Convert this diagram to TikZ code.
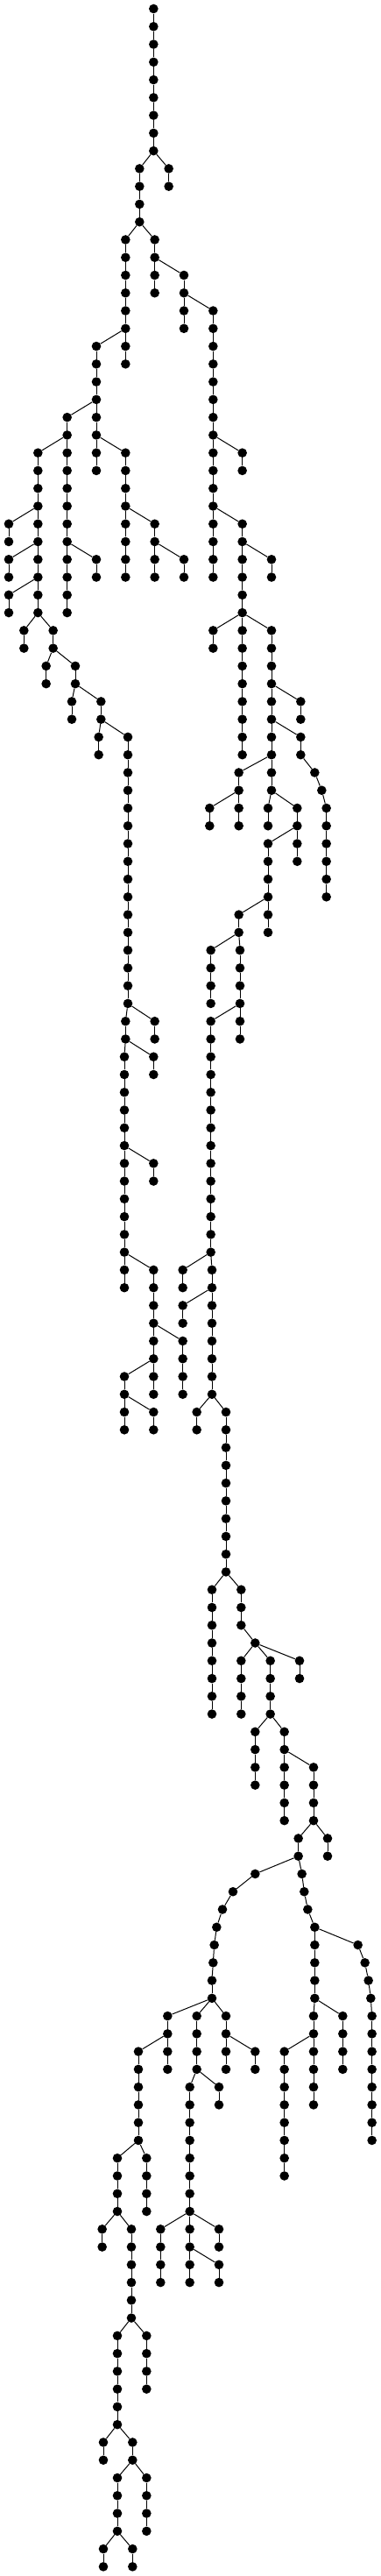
\documentclass[tikz,border=0pt]{standalone}
\tikzset{
  dot/.style={circle,fill=black,draw=none,inner sep=0pt,minimum size=10.6pt},
  edge/.style={line width=1pt,black}
}
\newcommand\tchain[4]{%
  \foreach \l in {#2,...,#3}{\node[dot] (n#1-\l) at (#1,\l) {};}%
  \draw[edge] (#4) -- (n#1-#2);%
  \ifnum#3>#2\relax
    \pgfmathtruncatemacro\chainstartval{#2+1}%
    \foreach \l in {\chainstartval,...,#3}{\pgfmathtruncatemacro\ppv{\l-1}\draw[edge] (n#1-\ppv) -- (n#1-\l);}%
  \fi}
\begin{document}
\begin{tikzpicture}[x=0.333333pt,y=-20.266pt]
\useasboundingbox (0,-0.49344) rectangle (1305,144.5265);
\node[dot] (n526-0) at (526,0) {};
\tchain{526}{1}{8}{n526-0}
\tchain{478}{9}{12}{n526-8}
\tchain{578}{9}{10}{n526-8}
\tchain{430}{13}{20}{n478-12}
\tchain{530}{13}{16}{n478-12}
\tchain{630}{15}{18}{n530-14}
\tchain{730}{17}{32}{n630-16}
\tchain{330}{19}{26}{n430-18}
\tchain{230}{23}{34}{n330-22}
\tchain{130}{25}{34}{n230-24}
\tchain{430}{25}{32}{n330-24}
\tchain{830}{25}{26}{n730-24}
\tchain{30}{29}{30}{n130-28}
\tchain{530}{29}{32}{n430-28}
\tchain{830}{29}{42}{n730-28}
\tchain{30}{31}{32}{n130-30}
\tchain{330}{31}{32}{n230-30}
\tchain{630}{31}{32}{n530-30}
\tchain{930}{31}{32}{n830-30}
\tchain{30}{33}{34}{n130-32}
\tchain{82}{35}{36}{n130-34}
\tchain{182}{35}{36}{n130-34}
\tchain{730}{35}{36}{n830-34}
\tchain{930}{35}{44}{n830-34}
\tchain{158}{37}{38}{n182-36}
\tchain{258}{37}{38}{n182-36}
\tchain{246}{39}{40}{n258-38}
\tchain{346}{39}{40}{n258-38}
\tchain{1030}{39}{40}{n930-38}
\tchain{338}{41}{42}{n346-40}
\tchain{438}{41}{56}{n346-40}
\tchain{1030}{41}{42}{n930-40}
\tchain{818}{43}{46}{n930-42}
\tchain{1078}{43}{43}{n1030-42}
\tchain{1102}{44}{44}{n1078-43}
\tchain{1118}{45}{50}{n1102-44}
\tchain{718}{45}{46}{n818-44}
\tchain{918}{45}{46}{n930-44}
\tchain{1018}{45}{48}{n930-44}
\tchain{918}{47}{52}{n1018-46}
\tchain{818}{51}{52}{n918-50}
\tchain{722}{53}{56}{n818-52}
\tchain{822}{53}{58}{n818-52}
\tchain{430}{57}{58}{n438-56}
\tchain{530}{57}{58}{n438-56}
\tchain{722}{57}{70}{n822-56}
\tchain{426}{59}{72}{n430-58}
\tchain{526}{59}{60}{n430-58}
\tchain{526}{65}{66}{n426-64}
\tchain{526}{71}{78}{n426-70}
\tchain{626}{71}{72}{n722-70}
\tchain{726}{71}{78}{n722-70}
\tchain{626}{73}{74}{n726-72}
\tchain{626}{75}{78}{n526-74}
\tchain{426}{77}{80}{n526-76}
\tchain{526}{79}{80}{n426-78}
\tchain{674}{79}{80}{n726-78}
\tchain{774}{79}{88}{n726-78}
\tchain{726}{89}{96}{n774-88}
\tchain{826}{89}{91}{n774-88}
\tchain{874}{92}{92}{n826-91}
\tchain{826}{93}{96}{n874-92}
\tchain{926}{93}{96}{n874-92}
\tchain{1026}{93}{94}{n874-92}
\tchain{874}{97}{100}{n926-96}
\tchain{974}{97}{102}{n926-96}
\tchain{1074}{99}{102}{n974-98}
\tchain{1022}{103}{104}{n1074-102}
\tchain{1122}{103}{104}{n1074-102}
\tchain{874}{105}{105}{n1022-104}
\tchain{798}{106}{106}{n874-105}
\tchain{762}{107}{107}{n798-106}
\tchain{742}{108}{108}{n762-107}
\tchain{734}{109}{109}{n742-108}
\tchain{730}{110}{110}{n734-109}
\tchain{726}{111}{112}{n730-110}
\tchain{1034}{105}{105}{n1022-104}
\tchain{1042}{106}{106}{n1034-105}
\tchain{1054}{107}{107}{n1042-106}
\tchain{1078}{108}{112}{n1054-107}
\tchain{1226}{109}{109}{n1078-108}
\tchain{1250}{110}{110}{n1226-109}
\tchain{1262}{111}{111}{n1250-110}
\tchain{1270}{112}{112}{n1262-111}
\tchain{1274}{113}{120}{n1270-112}
\tchain{574}{113}{116}{n726-112}
\tchain{674}{113}{116}{n726-112}
\tchain{774}{113}{116}{n726-112}
\tchain{1074}{113}{118}{n1078-112}
\tchain{1174}{113}{116}{n1078-112}
\tchain{474}{115}{120}{n574-114}
\tchain{874}{115}{116}{n774-114}
\tchain{974}{115}{122}{n1074-114}
\tchain{650}{117}{128}{n674-116}
\tchain{750}{117}{118}{n674-116}
\tchain{402}{121}{124}{n474-120}
\tchain{502}{121}{124}{n474-120}
\tchain{350}{125}{126}{n402-124}
\tchain{450}{125}{130}{n402-124}
\tchain{550}{125}{128}{n650-124}
\tchain{750}{125}{126}{n650-124}
\tchain{750}{127}{128}{n650-126}
\tchain{402}{131}{136}{n450-130}
\tchain{502}{131}{134}{n450-130}
\tchain{354}{137}{138}{n402-136}
\tchain{454}{137}{138}{n402-136}
\tchain{402}{139}{142}{n454-138}
\tchain{502}{139}{142}{n454-138}
\tchain{354}{143}{144}{n402-142}
\tchain{454}{143}{144}{n402-142}
\end{tikzpicture}
\end{document}
